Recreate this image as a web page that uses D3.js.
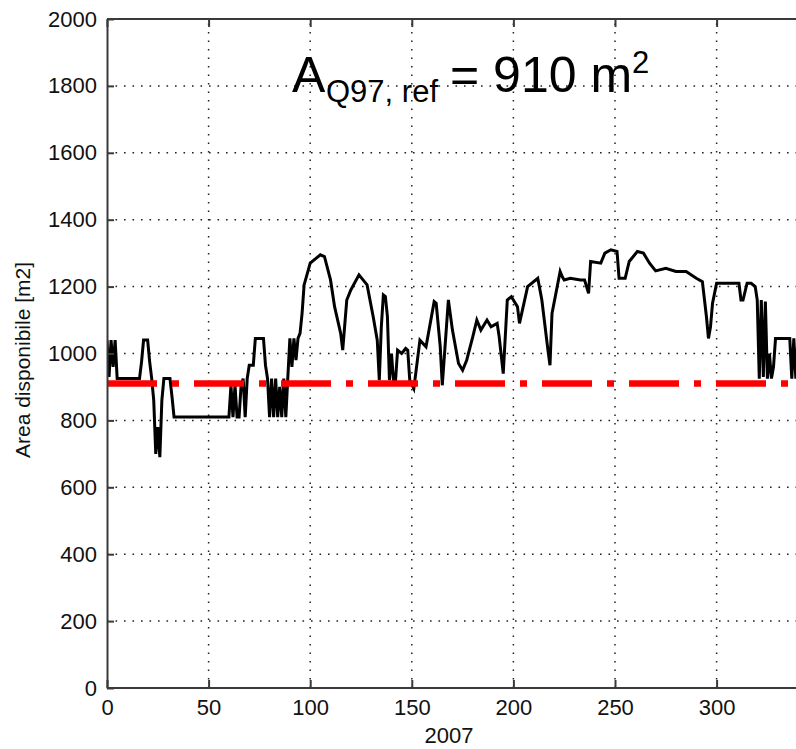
<html>
<head>
<meta charset="utf-8">
<title>Area disponibile 2007</title>
<script type="text/javascript" src="https://cdn.jsdelivr.net/npm/d3@7/dist/d3.min.js"></script>
<style>
  body { margin: 0; background: #fff; }
  text { font-family: "Liberation Sans", Arial, sans-serif; }
</style>
</head>
<body>
<div id="chart"></div>

<script type="text/javascript">
// day of the year and area
var days = [0, 1, 2, 3, 4, 5, 16, 17, 18, 20, 21, 22, 23, 24, 25, 26, 27, 28, 31, 32, 33,
            60, 61, 62, 63, 64, 65, 66, 67, 68, 69, 70, 72, 73, 77, 78, 79, 80, 81, 82, 83,
            84, 85, 86, 87, 88, 89, 90, 91, 92, 93, 94, 95, 96, 97, 100, 103, 105, 107, 110,
            112, 115, 116, 118, 120, 124, 128, 131, 133, 134, 135, 136, 137, 138, 139, 140,
            141, 142, 143, 145, 147, 148, 149, 151, 154, 157, 161, 162, 164, 165, 168, 170,
            173, 175, 177, 180, 182, 184, 187, 189, 192, 193, 195, 197, 199, 202, 203, 207,
            212, 214, 217, 218, 219, 223, 224, 225, 228, 233, 235, 237, 238, 243, 245, 248,
            251, 252, 255, 257, 261, 264, 267, 270, 275, 280, 285, 290, 293, 295, 296, 297,
            298, 300, 311, 312, 313, 315, 317, 319, 320, 321, 322, 323, 324, 325, 326, 327,
            328, 329, 336, 337, 338, 339, 340];
var area = [1040, 930, 1040, 960, 1040, 925, 925, 975, 1040, 1040, 975, 925, 860, 700, 780, 690, 860, 925, 925, 870, 810,
            810, 905, 810, 905, 810, 810, 905, 925, 810, 925, 965, 965, 1045, 1045, 965, 925, 810, 925, 810, 925,
            810, 900, 810, 925, 810, 930, 1045, 960, 1045, 980, 1045, 1060, 1120, 1205, 1270, 1285, 1295, 1290, 1220,
            1140, 1060, 1010, 1160, 1190, 1235, 1205, 1110, 1040, 920, 1080, 1175, 1170, 1110, 920, 1000,
            920, 920, 1010, 1000, 1015, 1010, 920, 895, 1040, 1020, 1155, 1150, 1020, 905, 1160, 1070,
            970, 950, 980, 1050, 1100, 1070, 1100, 1080, 1090, 1050, 940, 1160, 1170, 1140, 1090, 1200,
            1225, 1160, 1010, 965, 1120, 1245, 1230, 1220, 1225, 1220, 1220, 1180, 1275, 1270, 1300, 1310,
            1305, 1225, 1225, 1275, 1305, 1300, 1270, 1247, 1255, 1245, 1245, 1225, 1215, 1110, 1045, 1080,
            1150, 1210, 1210, 1160, 1160, 1210, 1210, 1200, 1160, 925, 1160, 930, 1155, 925, 1000, 925,
            960, 1045, 1045, 925, 1045, 925, 1045];

var refArea = 910;
var xTicks = [0, 50, 100, 150, 200, 250, 300];
var yTicks = [0, 200, 400, 600, 800, 1000, 1200, 1400, 1600, 1800, 2000];

var width = 796, height = 749;

var x = d3.scaleLinear().domain([0, 365]).range([107, 107 + 365 * 2.032]);
var y = d3.scaleLinear().domain([0, 2000]).range([688, 19]);

var svg = d3.select("#chart").append("svg")
    .attr("width", width)
    .attr("height", height);

svg.append("rect").attr("width", width).attr("height", height).attr("fill", "#fff");

svg.append("defs").append("clipPath").attr("id", "plot")
  .append("rect")
    .attr("x", x(0)).attr("y", y(2000))
    .attr("width", x(365) - x(0)).attr("height", y(0) - y(2000));

// dotted grid
var grid = svg.append("g").attr("stroke", "#222").attr("stroke-width", 1.5)
    .attr("stroke-dasharray", "1.6,6.9");
grid.selectAll(".vg").data(xTicks.slice(1)).enter().append("line")
    .attr("x1", function(d) { return x(d); }).attr("x2", function(d) { return x(d); })
    .attr("y1", y(0)).attr("y2", y(2000));
grid.selectAll(".hg").data(yTicks.slice(1, -1)).enter().append("line")
    .attr("x1", x(0)).attr("x2", width)
    .attr("y1", function(d) { return y(d); }).attr("y2", function(d) { return y(d); });

// area series
var line = d3.line()
    .x(function(d, i) { return x(days[i]); })
    .y(function(d) { return y(d); });

var plot = svg.append("g").attr("clip-path", "url(#plot)");
plot.append("path")
    .attr("d", line(area))
    .attr("fill", "none")
    .attr("stroke", "#000")
    .attr("stroke-width", 3)
    .attr("stroke-linejoin", "miter");

// reference area, dash-dot
plot.append("line")
    .attr("x1", x(0)).attr("x2", x(365))
    .attr("y1", y(refArea)).attr("y2", y(refArea))
    .attr("stroke", "#ff0000")
    .attr("stroke-width", 6.5)
    .attr("stroke-dasharray", "50,15,7,15");

// axes
var fmt = d3.format("d");
var xAxis = svg.append("g").attr("transform", "translate(0," + y(0) + ")")
    .call(d3.axisBottom(x).tickValues(xTicks).tickFormat(fmt).tickSize(-8).tickPadding(11).tickSizeOuter(0));
var xTop = svg.append("g").attr("transform", "translate(0," + y(2000) + ")")
    .call(d3.axisTop(x).tickValues(xTicks).tickSize(-8).tickFormat("").tickSizeOuter(0));
var yAxis = svg.append("g").attr("transform", "translate(" + x(0) + ",0)")
    .call(d3.axisLeft(y).tickValues(yTicks).tickFormat(fmt).tickSize(-7).tickPadding(10).tickSizeOuter(0));

[xAxis, xTop, yAxis].forEach(function(g) {
    g.selectAll("path, line").attr("stroke", "#3a3a3a").attr("stroke-width", 2);
    g.selectAll("text").attr("fill", "#111").style("font-size", "22px")
        .style("font-family", "'Liberation Sans', Arial, sans-serif");
});
xAxis.select(".domain").attr("d", "M" + x(0) + ",0H" + width);
xTop.select(".domain").attr("d", "M" + x(0) + ",0H" + width);

svg.append("text")
    .attr("x", 449).attr("y", 743)
    .attr("text-anchor", "middle")
    .attr("fill", "#111")
    .style("font-size", "22px")
    .text("2007");

svg.append("text")
    .attr("transform", "translate(30,360) rotate(-90)")
    .attr("text-anchor", "middle")
    .attr("fill", "#111")
    .style("font-size", "21px")
    .text("Area disponibile [m2]");

// annotation
var note = svg.append("text").attr("x", 292).attr("y", 92).attr("fill", "#000");
note.append("tspan").style("font-size", "50px").text("A");
note.append("tspan").attr("x", 326).attr("dy", 10).style("font-size", "31px").text("Q97, ref");
note.append("tspan").attr("x", 450).attr("dy", -10).style("font-size", "50px").text("= 910 m");
note.append("tspan").attr("dy", -19).style("font-size", "31px").text("2");
</script>
</body>
</html>
